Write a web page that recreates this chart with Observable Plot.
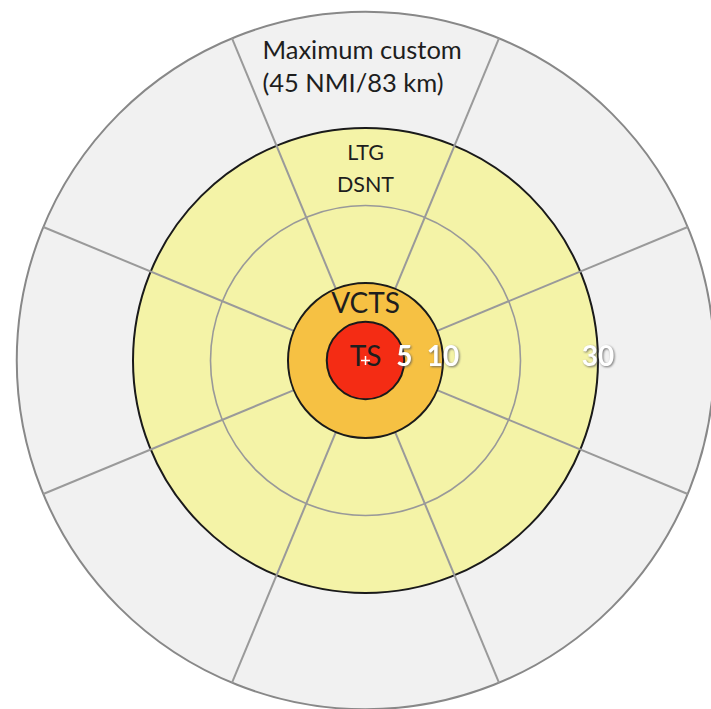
<!DOCTYPE html>
<html>
<head>
<meta charset="utf-8">
<script src="https://cdn.jsdelivr.net/npm/d3@7"></script>
<script src="https://cdn.jsdelivr.net/npm/@observablehq/plot@0.6"></script>
<style>
  html, body { margin: 0; padding: 0; background: #fff; }
  svg { display: block; }
</style>
</head>
<body>
<div id="chart"></div>
<script>
// Ring radii (NMI) and styles by name
const ringRadii = [45, 30, 20, 10, 5];
const ringNames = ["Maximum custom", "LTG DSNT", "grid", "VCTS", "TS"];
const ringFills = ["#f1f1f1", "#f4f3a7", "none", "#f6c143", "#f42c14"];
const ringStrokes = ["#888888", "#1a1a1a", "#999999", "#1a1a1a", "#1a1a1a"];
const ringStrokeWidths = [2, 2, 1.6, 2, 2];

// Spokes: angles in degrees (clockwise from north) and radial extent
const spokeAngles = [22.5, 67.5, 112.5, 157.5, 202.5, 247.5, 292.5, 337.5];
const spokeInner = 10;
const spokeOuter = 45;

// Distance tick labels (placed on the ring edges)
const tickValues = [5, 10, 30];
const tickLabels = ["5", "10", "30"];

// Zone labels: text lines and radial position of the line (NMI)
const zoneLines = ["Maximum custom", "(45 NMI/83 km)", "LTG", "DSNT", "VCTS"];
const zoneLineR = [39.9, 35.7, 26.8, 22.6, 7.3];
const zoneLineSize = [25.5, 25.5, 21.5, 21.5, 28];
const zoneLineAnchor = ["start", "start", "middle", "middle", "middle"];
const zoneLineX = [-13.3, -13.3, 0, 0, 0];

const W = 711, H = 709;
const cx = 365, cy = 360;       // pixel centre
const k = 7.75;                 // pixels per NMI

const rings = ringRadii.map((r, i) => ({
  r, name: ringNames[i], fill: ringFills[i], stroke: ringStrokes[i], sw: ringStrokeWidths[i]
}));
const rad = (a) => a * Math.PI / 180;
const spokes = spokeAngles.map(a => ({
  x1: spokeInner * Math.sin(rad(a)), y1: spokeInner * Math.cos(rad(a)),
  x2: spokeOuter * Math.sin(rad(a)), y2: spokeOuter * Math.cos(rad(a))
}));
const ticks = tickValues.map((v, i) => ({x: v, y: 0, label: tickLabels[i]}));
const zones = zoneLines.map((t, i) => ({
  text: t, x: zoneLineX[i], y: zoneLineR[i], size: zoneLineSize[i], anchor: zoneLineAnchor[i]
}));

const outer = rings.slice(0, 3);   // 45, 30, 20
const inner = rings.slice(3);      // 10, 5

const font = "Lato, 'Open Sans', sans-serif";

const textMarks = zones.map(z => Plot.text([z], {
  x: "x", y: "y", text: "text", fontSize: z.size, textAnchor: z.anchor,
  fill: "#1e1e1e", fontFamily: font
}));

const chart = Plot.plot({
  width: W,
  height: H,
  margin: 0,
  x: {domain: [-cx / k, (W - cx) / k], axis: null},
  y: {domain: [-(H - cy) / k, cy / k], axis: null},
  r: {type: "linear", domain: [0, 45], range: [0, 45 * k]},
  style: {background: "#ffffff", fontFamily: font},
  marks: [
    Plot.dot(outer, {x: 0, y: 0, r: "r", fill: d => d.fill, stroke: d => d.stroke, strokeWidth: d => d.sw}),
    Plot.link(spokes, {x1: "x1", y1: "y1", x2: "x2", y2: "y2", stroke: "#9a9a9a", strokeWidth: 2}),
    Plot.dot(inner, {x: 0, y: 0, r: "r", fill: d => d.fill, stroke: d => d.stroke, strokeWidth: d => d.sw}),
    ...textMarks,
    Plot.text([{x: 0, y: 0, t: "TS"}], {x: "x", y: "y", text: "t", fontSize: 28, fill: "#1e1e1e", dy: -3, letterSpacing: -2, fontFamily: font}),
    Plot.dot([{x: 0, y: 0}], {x: "x", y: "y", symbol: "plus", r: 3, stroke: "#ffffff", strokeWidth: 1.5}),
    Plot.text(ticks, {x: "x", y: "y", text: "label", fontSize: 28, fontWeight: "bold", fill: "#ffffff", dy: -3, fontFamily: font, ariaDescription: "ticklabels"})
  ]
});
d3.select(chart).selectAll("g[aria-description='ticklabels'] text")
  .style("filter", "drop-shadow(1.5px 1.5px 1px rgba(90,90,90,0.8))");
document.getElementById("chart").appendChild(chart);
</script>
</body>
</html>
